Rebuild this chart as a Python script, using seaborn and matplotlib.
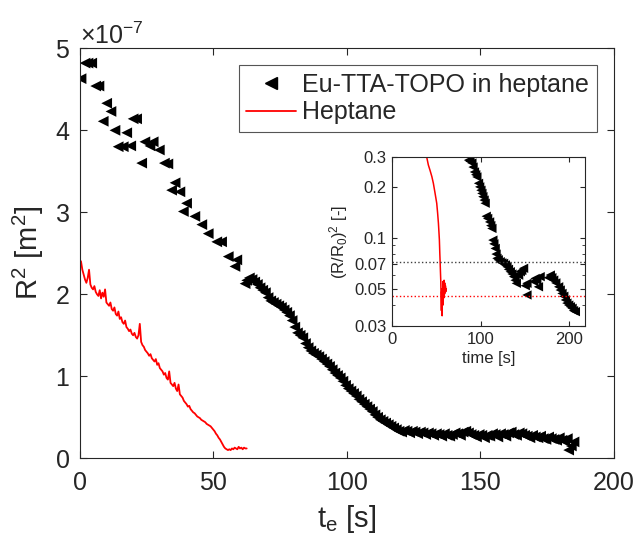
import numpy as np
import pandas as pd
import seaborn as sns
import matplotlib
matplotlib.use("Agg")
import matplotlib.pyplot as plt
from matplotlib.ticker import ScalarFormatter, FixedLocator, NullFormatter
from matplotlib.lines import Line2D

# Eu-TTA-TOPO in heptane, main panel (t_e [s], R^2 in 1e-7 m^2)
eu_t = [0.5, 2.0, 3.1, 4.5, 6.0, 7.2, 8.8, 10.1, 11.7, 13.2, 14.4, 16.3, 17.6, 19.1,
        20.0, 21.3, 23.2, 24.4, 26.3, 27.5, 29.8, 31.7, 33.0, 34.4, 35.7, 37.5, 38.8,
        40.0, 43.1, 45.7, 48.1, 51.3, 53.1, 55.6, 58.1, 58.8, 61.9,
        62.5, 63.5, 64.5, 65.5, 66.5, 67.5, 68.5, 69.5, 70.5, 71.5, 72.5, 73.5, 74.5,
        75.5, 76.5, 77.5, 78.5, 79.5, 80.5, 81.5, 82.5, 83.5, 84.5, 85.5, 86.5, 87.5,
        88.5, 89.5, 90.5, 91.5, 92.5, 93.5, 94.5, 95.5, 96.5, 97.5, 98.5, 99.5, 100.5,
        101.5, 102.5, 103.5, 104.5, 105.5, 106.5, 107.5, 108.5, 109.5, 110.5, 111.5,
        112.5, 113.5, 114.5, 115.5, 116.5, 117.5, 118.5, 119.5, 120.5, 121.5, 122.5,
        123.5, 124.5, 125.5, 126.5, 127.5, 128.5, 129.5, 130.5, 131.5, 132.5, 133.5,
        134.5, 135.5, 136.5, 137.5, 138.5, 139.5, 140.5, 141.5, 142.5, 143.5, 144.5,
        145.5, 146.5, 147.5, 148.5, 149.5, 150.5, 151.5, 152.5, 153.5, 154.5, 155.5,
        156.5, 157.5, 158.5, 159.5, 160.5, 161.5, 162.5, 163.5, 164.5, 165.5, 166.5,
        167.5, 168.5, 169.5, 170.5, 171.5, 172.5, 173.5, 174.5, 175.5, 176.5, 177.5,
        178.5, 179.5, 180.5, 181.5, 182.5, 183.0, 184.0, 185.0]
eu_r2 = [4.63, 4.82, 4.82, 4.82, 4.54, 4.54, 4.11, 4.33, 4.23, 4.00, 3.80, 3.80, 3.97, 3.81,
         4.14, 4.14, 3.60, 3.86, 3.81, 3.86, 3.76, 3.60, 3.59, 3.27, 3.36, 3.25, 3.01,
         3.11, 2.95, 2.85, 2.74, 2.64, 2.64, 2.46, 2.34, 2.42, 2.13,
         2.17, 2.20, 2.18, 2.15, 2.12, 2.08, 2.05, 2.02, 1.96, 1.92, 1.90, 1.88, 1.86,
         1.84, 1.81, 1.78, 1.74, 1.68, 1.60, 1.53, 1.50, 1.47, 1.40, 1.35, 1.31, 1.28,
         1.26, 1.24, 1.21, 1.18, 1.15, 1.12, 1.08, 1.04, 1.01, 0.98, 0.94, 0.89, 0.85,
         0.82, 0.79, 0.76, 0.72, 0.69, 0.66, 0.63, 0.60, 0.57, 0.53, 0.50,
         0.47, 0.45, 0.43, 0.41, 0.39, 0.37, 0.35, 0.33, 0.32, 0.34, 0.33,
         0.31, 0.33, 0.32, 0.30, 0.32, 0.31, 0.29, 0.31, 0.30, 0.28, 0.30,
         0.29, 0.27, 0.30, 0.28, 0.27, 0.29, 0.31, 0.30, 0.28, 0.32, 0.33,
         0.31, 0.29, 0.28, 0.26, 0.29, 0.28, 0.25, 0.28, 0.27, 0.30, 0.29,
         0.26, 0.30, 0.29, 0.27, 0.31, 0.32, 0.29, 0.28, 0.31, 0.30, 0.28,
         0.27, 0.25, 0.28, 0.26, 0.25, 0.27, 0.24, 0.23, 0.26, 0.24, 0.23,
         0.22, 0.25, 0.22, 0.21, 0.24, 0.10, 0.15, 0.20]

# Heptane, main panel
hep_t = [0.0, 0.5, 1.0, 1.5, 2.0, 2.5, 3.0, 3.5, 4.0, 4.5, 5.0, 5.5, 6.0, 6.5, 7.0, 7.5,
         8.0, 8.5, 9.0, 9.5, 10.0, 10.5, 11.0, 11.5, 12.0, 12.5, 13.0, 13.5, 14.0, 14.5,
         15.0, 15.5, 16.0, 16.5, 17.0, 17.5, 18.0, 18.5, 19.0, 19.5, 20.0, 20.5, 21.0,
         21.5, 22.0, 22.5, 23.0, 23.5, 24.0, 24.5, 25.0, 25.5, 26.0, 26.5, 27.0, 27.5,
         28.0, 28.5, 29.0, 29.5, 30.0, 30.5, 31.0, 31.5, 32.0, 32.5, 33.0, 33.5, 34.0,
         34.5, 35.0, 35.5, 36.0, 36.5, 37.0, 37.5, 38.0, 38.5, 39.0, 39.5, 40.0, 40.5,
         41.0, 41.5, 42.0, 42.5, 43.0, 43.5, 44.0, 44.5, 45.0, 45.5, 46.0, 46.5, 47.0,
         47.5, 48.0, 48.5, 49.0, 49.5, 50.0, 50.5, 51.0, 51.5, 52.0, 52.5, 53.0, 53.5,
         54.0, 54.5, 55.0, 55.5, 56.0, 56.5, 57.0, 57.5, 58.0, 58.5, 59.0, 59.5, 60.0,
         60.5, 61.0, 61.5, 62.0, 62.5]
hep_r2 = [2.42, 2.40, 2.30, 2.24, 2.18, 2.14, 2.20, 2.30, 2.12, 2.08, 2.06, 2.10, 2.03, 2.00, 1.98, 2.05,
          1.95, 2.02, 1.97, 2.06, 1.90, 1.88, 1.86, 1.90, 1.82, 1.80, 1.84, 1.76, 1.74, 1.79,
          1.70, 1.72, 1.66, 1.64, 1.68, 1.60, 1.58, 1.55, 1.57, 1.52, 1.50, 1.53, 1.48,
          1.46, 1.50, 1.64, 1.42, 1.38, 1.36, 1.32, 1.30, 1.28, 1.25, 1.27, 1.22, 1.20,
          1.18, 1.21, 1.14, 1.16, 1.10, 1.08, 1.06, 1.02, 1.04, 0.98, 0.96, 1.06, 0.92,
          0.90, 0.88, 0.92, 0.85, 0.82, 0.90, 0.78, 0.76, 0.74, 0.70, 0.68, 0.66, 0.63,
          0.64, 0.60, 0.58, 0.56, 0.55, 0.53, 0.51, 0.50, 0.49, 0.47, 0.46, 0.45, 0.44,
          0.42, 0.41, 0.40, 0.39, 0.37, 0.35, 0.33, 0.30, 0.28, 0.25, 0.23, 0.20, 0.17,
          0.14, 0.12, 0.11, 0.10, 0.11, 0.10, 0.12, 0.11, 0.13, 0.12, 0.11, 0.14, 0.12,
          0.13, 0.11, 0.13, 0.12, 0.12]

# inset: normalised (R/R0)^2
in_eu_t = [86.4, 88.0, 90.2, 91.5, 93.1, 94.5, 95.8, 97.7, 99.0, 100.4, 101.5, 102.6, 104.0,
           105.2, 106.4, 108.0, 110.2, 111.5, 112.8, 113.9, 115.0, 116.5, 117.5, 118.5,
           120.0, 122.2, 124.0, 126.0, 128.0, 129.8, 131.5, 133.6, 135.5, 137.3, 139.0,
           140.4, 143.0, 144.9, 146.5, 148.6, 150.5, 152.4, 152.4, 160.0, 161.6, 163.5,
           165.4, 167.3, 176.5, 178.8, 180.5, 182.6, 185.0, 188.2, 190.0, 192.0, 194.0,
           195.8, 197.5, 199.6, 201.5, 203.4, 205.0, 207.1]
in_eu_r = [0.288, 0.283, 0.277, 0.262, 0.245, 0.236, 0.229, 0.21, 0.2, 0.191, 0.183, 0.175, 0.167,
           0.16, 0.134, 0.13, 0.124, 0.118, 0.1135, 0.0968, 0.092, 0.0864, 0.08, 0.0755,
           0.074, 0.0721, 0.071, 0.0705, 0.069, 0.0673, 0.065, 0.0629, 0.061, 0.0588, 0.056,
           0.0537, 0.06, 0.0629, 0.064, 0.0659, 0.052, 0.0537, 0.0458, 0.055, 0.0574, 0.056,
           0.0512, 0.0588, 0.058, 0.0601, 0.058, 0.0561, 0.054, 0.0512, 0.049, 0.0468, 0.045,
           0.0428, 0.041, 0.0399, 0.039, 0.0382, 0.037, 0.0365]
in_hep_t = [36.0, 38.0, 39.2, 41.0, 43.0, 45.0, 46.7, 48.5, 50.5, 51.5, 52.4, 53.0, 53.5, 54.0,
            54.3, 54.7, 55.1, 55.4, 55.8, 56.1, 56.4, 56.6, 56.9, 57.2, 57.5, 57.8, 58.1,
            58.4, 58.8, 59.1, 59.5, 59.9, 60.3, 60.8, 61.3]
in_hep_r = [0.34, 0.31, 0.30, 0.27, 0.25, 0.23, 0.21, 0.185, 0.16, 0.14, 0.122, 0.108, 0.097, 0.08,
            0.073, 0.063, 0.055, 0.045, 0.037, 0.048, 0.036, 0.0345, 0.05, 0.042, 0.055, 0.04, 0.052,
            0.044, 0.056, 0.046, 0.054, 0.047, 0.052, 0.048, 0.05]
ref_eu = 0.0714
ref_hep = 0.0451

eu = pd.DataFrame({"t": eu_t, "r2": np.array(eu_r2) * 1e-7})
hep = pd.DataFrame({"t": hep_t, "r2": np.array(hep_r2) * 1e-7})
in_eu = pd.DataFrame({"t": in_eu_t, "r": in_eu_r})
in_hep = pd.DataFrame({"t": in_hep_t, "r": in_hep_r})

sns.set_style("ticks")
plt.rcParams['font.family'] = ['Liberation Sans', 'DejaVu Sans']
plt.rcParams['mathtext.fontset'] = 'custom'
plt.rcParams['mathtext.rm'] = 'Liberation Sans'
plt.rcParams['mathtext.it'] = 'Liberation Sans'
dark = '#262626'
for k in ['axes.edgecolor', 'xtick.color', 'ytick.color', 'text.color', 'axes.labelcolor']:
    plt.rcParams[k] = dark

fig = plt.figure(figsize=(6.39, 5.43), dpi=100)
ax = fig.add_axes([0.1247, 0.156, 0.8363, 0.755])

sns.scatterplot(data=eu, x="t", y="r2", marker="<", color="black", s=60,
                edgecolor="none", ax=ax, legend=False)
sns.lineplot(data=hep, x="t", y="r2", color="red", lw=1.3, ax=ax, legend=False)

ax.set_xlim(0, 200)
ax.set_ylim(0, 5e-7)
ax.set_xticks([0, 50, 100, 150, 200])
ax.set_yticks(np.arange(0, 6) * 1e-7)
fmt = ScalarFormatter(useMathText=True)
fmt.set_powerlimits((0, 0))
ax.yaxis.set_major_formatter(fmt)
ax.yaxis.get_offset_text().set_fontsize(18)
ax.tick_params(direction="in", top=True, right=True, labelsize=18, length=5, width=0.8)
ax.tick_params(axis="x", pad=9)
ax.tick_params(axis="y", pad=7)
for sp in ax.spines.values():
    sp.set_linewidth(0.8)
ax.set_xlabel("t$_{\\mathregular{e}}$ [s]", fontsize=21, labelpad=6)
ax.set_ylabel("R$^{2}$ [m$^{2}$]", fontsize=21, labelpad=6)

handles = [Line2D([], [], marker="<", color="black", ls="none", markersize=8),
           Line2D([], [], color="red", lw=1.3)]
leg = ax.legend(handles, ["Eu-TTA-TOPO in heptane", "Heptane"], loc="upper right",
                bbox_to_anchor=(0.9676, 0.959), borderaxespad=0, fontsize=18,
                frameon=True, fancybox=False, framealpha=1, edgecolor="#555555",
                handlelength=2.0, handletextpad=0.25, labelspacing=0.15, borderpad=0.3)
leg.get_frame().set_linewidth(0.8)

# inset
axi = fig.add_axes([0.6135, 0.3996, 0.302, 0.311])
sns.scatterplot(data=in_eu, x="t", y="r", marker="<", color="black", s=45,
                edgecolor="none", ax=axi, legend=False)
sns.lineplot(data=in_hep, x="t", y="r", color="red", lw=1.1, ax=axi, legend=False)
axi.axhline(ref_eu, color="#404040", ls=":", lw=1.0)
axi.axhline(ref_hep, color="red", ls=":", lw=1.0)
axi.set_yscale("log")
axi.set_xlim(0, 218)
axi.set_ylim(0.03, 0.3)
axi.set_xticks([0, 100, 200])
axi.yaxis.set_major_locator(FixedLocator([0.03, 0.05, 0.07, 0.1, 0.2, 0.3]))
axi.yaxis.set_major_formatter(matplotlib.ticker.FixedFormatter(["0.03", "0.05", "0.07", "0.1", "0.2", "0.3"]))
axi.yaxis.set_minor_locator(FixedLocator([0.04, 0.06, 0.08, 0.09]))
axi.yaxis.set_minor_formatter(NullFormatter())
axi.tick_params(direction="in", top=True, right=True, labelsize=12, length=3.5, width=0.8, pad=4)
axi.tick_params(which="minor", direction="in", right=True, left=True, length=2, width=0.6)
for sp in axi.spines.values():
    sp.set_linewidth(0.8)
axi.set_xlabel("time [s]", fontsize=12, labelpad=3)
axi.set_ylabel("(R/R$_{0}$)$^{2}$ [-]", fontsize=12, labelpad=3)

fig.savefig("out.png", dpi=100)
